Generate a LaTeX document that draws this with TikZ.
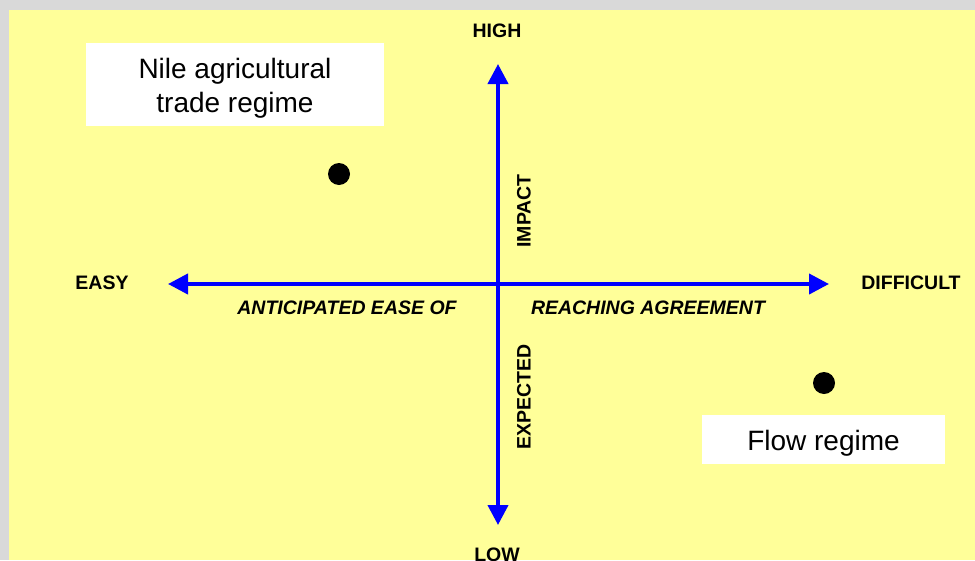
\documentclass[tikz,border=0pt]{standalone}
\usepackage{fontspec}
\setmainfont{Liberation Sans}
\usetikzlibrary{arrows.meta}
\definecolor{bggray}{HTML}{D9D9D9}
\definecolor{bgyellow}{HTML}{FFFF99}
\definecolor{axisblue}{HTML}{0000FF}
\tikzset{
  axis/.style={draw=axisblue, line width=4pt, {Triangle[length=20pt,width=20pt]}-{Triangle[length=20pt,width=20pt]}},
  lbl/.style={font=\fontsize{19.5}{22}\selectfont\bfseries, text=black, inner sep=0pt},
  ilbl/.style={font=\fontsize{19.5}{22}\selectfont\bfseries\itshape, text=black, inner sep=0pt},
  wbox/.style={fill=white, draw=none, inner sep=0pt},
  wtext/.style={align=center, font=\fontsize{28}{34}\selectfont, inner sep=0pt},
  dot/.style={circle, fill=black, minimum size=22pt, inner sep=0pt}
}
\begin{document}
\begin{tikzpicture}[x=1pt,y=-1pt]
\useasboundingbox (0,0) rectangle (975,560);
\clip (0,0) rectangle (975,560);
\fill[bggray] (0,0) rectangle (975,560);
\fill[bgyellow] (9,10) rectangle (975,560);
% axes
\coordinate (W) at (168,284);
\coordinate (E) at (829,284);
\coordinate (N) at (498,64);
\coordinate (S) at (498,525);
\draw[axis] (W) -- (E);
\draw[axis] (N) -- (S);
% axis labels
\node[lbl] (high) at (497,31) {HIGH};
\node[lbl] (low) at (497,555) {LOW};
\node[lbl] (easy) at (102,283) {EASY};
\node[lbl] (diff) at (911,283) {DIFFICULT};
\node[ilbl] (ant) at (347,308) {ANTICIPATED EASE OF};
\node[ilbl] (reach) at (648,308) {REACHING AGREEMENT};
\node[lbl, rotate=90] (impact) at (524,211) {IMPACT};
\node[lbl, rotate=90] (expected) at (524,397) {EXPECTED};
% boxes
\node[wbox, minimum width=298pt, minimum height=83pt] (nilebox) at (235,84.5) {};
\node[wtext] (nile) at (235,88) {Nile agricultural\\trade regime};
\node[wbox, minimum width=243pt, minimum height=49pt] (flowbox) at (823.5,439.5) {};
\node[wtext] (flow) at (823.5,443) {Flow regime};
% dots
\node[dot] (d1) at (339,174) {};
\node[dot] (d2) at (824,383) {};
\end{tikzpicture}
\end{document}
